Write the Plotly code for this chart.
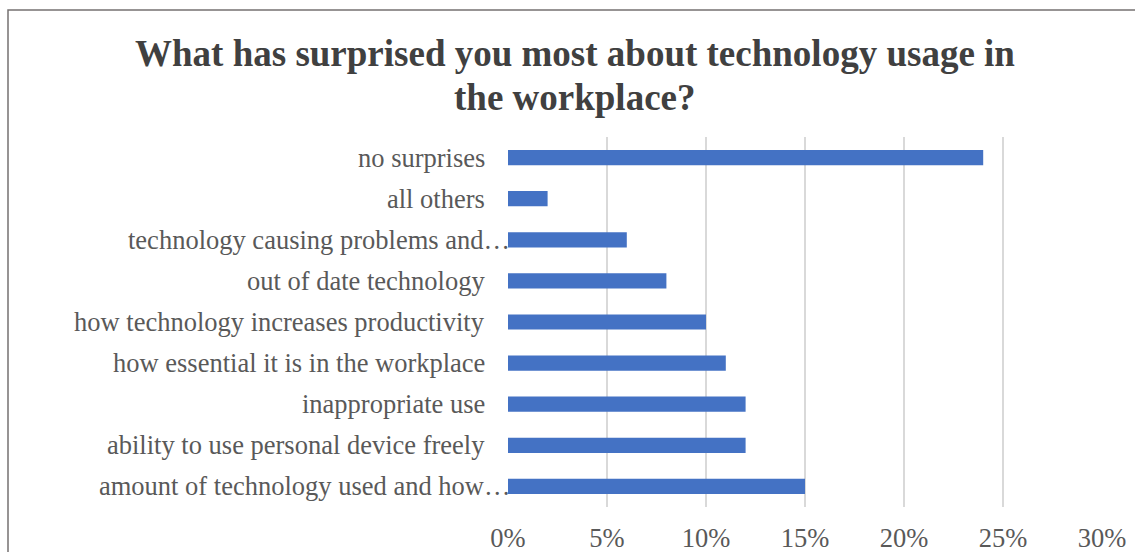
import plotly.graph_objects as go

# Survey responses, bottom-to-top order as drawn on the category axis
categories = [
    "amount of technology used and how…",
    "ability to use personal device freely",
    "inappropriate use",
    "how essential it is in the workplace",
    "how technology increases productivity",
    "out of date technology",
    "technology causing problems and…",
    "all others",
    "no surprises",
]
shares = [0.15, 0.12, 0.12, 0.11, 0.10, 0.08, 0.06, 0.02, 0.24]

x_ticks = [0, 0.05, 0.10, 0.15, 0.20, 0.25, 0.30]
x_tick_labels = ["0%", "5%", "10%", "15%", "20%", "25%", "30%"]

title_lines = ["What has surprised you most about technology usage in", "the workplace?"]

W, H = 1135, 552
L, R, T, B = 508, 33, 137, 45

fig = go.Figure(
    go.Bar(
        x=shares,
        y=categories,
        orientation="h",
        marker=dict(color="#4472C4", line=dict(width=0)),
        width=0.37,
    )
)

pw = W - L - R
ph = H - T - B

title_font = dict(family="Liberation Serif", size=37, color="#404040", weight="bold")
title_annots = [
    dict(
        text=line,
        xref="paper",
        yref="paper",
        x=(575 - L) / pw,
        y=1 + (T - cy) / ph,
        xanchor="center",
        yanchor="middle",
        showarrow=False,
        font=title_font,
    )
    for line, cy in zip(title_lines, [53, 98])
]

# Category labels; shortened labels with a trailing ellipsis run up to the axis
label_font = dict(family="Liberation Serif", size=26.5, color="#595959")
label_annots = [
    dict(
        text=cat,
        xref="paper",
        yref="y",
        x=0,
        y=cat,
        xanchor="right",
        yanchor="middle",
        xshift=4 if cat.endswith("…") else -21,
        showarrow=False,
        font=label_font,
    )
    for cat in categories
]

fig.update_layout(
    width=W,
    height=H,
    margin=dict(l=L, r=R, t=T, b=B, pad=0),
    paper_bgcolor="white",
    plot_bgcolor="white",
    showlegend=False,
    font=dict(family="Liberation Serif", color="#595959"),
    annotations=title_annots + label_annots,
    shapes=[
        # chart frame
        dict(
            type="rect",
            xref="paper",
            yref="paper",
            x0=(8 - L) / pw,
            x1=(W + 20 - L) / pw,
            y0=-(B + 20) / ph,
            y1=1 + (T - 10) / ph,
            line=dict(color="#767171", width=1.5),
            fillcolor="rgba(0,0,0,0)",
            layer="below",
        )
    ],
)

fig.update_xaxes(
    range=[0, 0.30],
    tickvals=x_ticks,
    ticktext=x_tick_labels,
    showgrid=True,
    gridcolor="#D9D9D9",
    gridwidth=1.5,
    zeroline=False,
    showline=False,
    ticks="",
    ticklabelstandoff=12,
    automargin=False,
    tickfont=dict(family="Liberation Serif", size=26.5, color="#595959"),
    fixedrange=True,
)
fig.update_yaxes(
    categoryorder="array",
    categoryarray=categories,
    showgrid=False,
    zeroline=False,
    showline=False,
    ticks="",
    showticklabels=False,
    automargin=False,
    fixedrange=True,
)

fig.write_html("out.html")
